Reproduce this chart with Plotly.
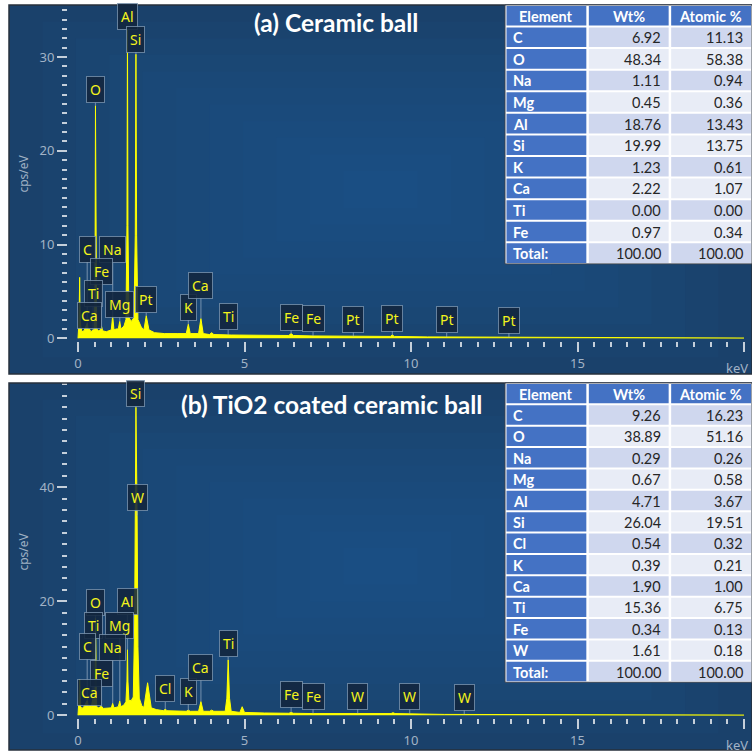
import numpy as np
import plotly.graph_objects as go

# ---------------- EDS spectra (energy in keV, intensity in cps/eV) ----------------
energy_a = [0.00, 0.02, 0.04, 0.05, 0.06, 0.08, 0.12, 0.18, 0.24, 0.277, 0.31, 0.341, 0.39,
            0.452, 0.49, 0.51, 0.525, 0.54, 0.56, 0.62, 0.67, 0.705, 0.74, 0.85, 0.95, 1.00,
            1.041, 1.08, 1.15, 1.21, 1.254, 1.29, 1.38, 1.44, 1.47, 1.486, 1.50, 1.53, 1.60,
            1.68, 1.72, 1.74, 1.76, 1.80, 1.90, 1.98, 2.05, 2.13, 2.30, 2.60, 3.00, 3.25,
            3.313, 3.37, 3.62, 3.691, 3.76, 3.95, 4.013, 4.08, 4.60, 5.50, 6.33, 6.40, 6.47,
            7.06, 8.00, 9.38, 9.44, 9.50, 10.5, 12.0, 14.0, 17.0, 20.0]
counts_a = [0.0, 1.2, 4.0, 6.5, 3.5, 1.3, 0.7, 0.8, 1.2, 1.6, 0.9, 1.0, 0.7,
            0.9, 0.9, 5.0, 24.8, 5.0, 1.0, 0.8, 0.9, 1.3, 0.8, 0.7, 0.8, 0.9,
            2.4, 0.9, 1.0, 1.0, 1.8, 1.0, 1.3, 2.0, 12.0, 33.0, 12.0, 2.2, 1.8,
            2.2, 11.0, 30.3, 11.0, 2.0, 1.2, 0.9, 2.4, 0.9, 0.6, 0.5, 0.5, 0.5,
            1.5, 0.5, 0.5, 2.1, 0.5, 0.4, 0.6, 0.4, 0.35, 0.3, 0.3, 0.5, 0.3,
            0.25, 0.2, 0.2, 0.35, 0.2, 0.15, 0.12, 0.08, 0.05, 0.03]

energy_b = [0.00, 0.02, 0.04, 0.05, 0.06, 0.08, 0.12, 0.18, 0.24, 0.277, 0.31, 0.341, 0.40,
            0.452, 0.49, 0.51, 0.525, 0.54, 0.56, 0.62, 0.705, 0.76, 0.85, 0.95, 1.00,
            1.041, 1.08, 1.15, 1.21, 1.254, 1.29, 1.38, 1.44, 1.47, 1.486, 1.50, 1.53, 1.60,
            1.66, 1.70, 1.74, 1.775, 1.80, 1.84, 1.92, 1.98, 2.09, 2.20, 2.35, 2.57, 2.622,
            2.67, 3.00, 3.25, 3.313, 3.37, 3.62, 3.691, 3.76, 3.95, 4.013, 4.08, 4.42, 4.47,
            4.51, 4.55, 4.60, 4.86, 4.93, 5.00, 5.60, 6.33, 6.40, 6.47, 7.06, 8.40, 9.40,
            9.46, 9.52, 11.0, 14.0, 17.0, 20.0]
counts_b = [0.0, 1.3, 4.0, 6.3, 3.5, 1.5, 1.2, 1.5, 2.2, 2.6, 1.6, 1.8, 1.6,
            3.0, 1.6, 4.5, 17.0, 4.5, 1.5, 1.3, 1.6, 1.2, 1.2, 1.2, 1.3,
            2.1, 1.3, 1.4, 1.5, 2.5, 1.5, 1.8, 2.4, 6.0, 11.5, 6.0, 2.6, 2.6,
            3.2, 16.0, 54.0, 35.0, 12.0, 3.0, 1.6, 1.4, 5.7, 1.3, 1.0, 0.8, 1.1,
            0.8, 0.7, 0.7, 0.9, 0.7, 0.7, 2.4, 0.7, 0.7, 0.9, 0.7, 0.7, 3.0,
            9.7, 3.0, 0.7, 0.5, 1.5, 0.5, 0.4, 0.35, 0.5, 0.35, 0.3, 0.3, 0.3,
            0.45, 0.3, 0.15, 0.1, 0.06, 0.04]

# ---------------- peak identification tags ----------------
tags_a = ["Al", "Si", "O", "C", "Na", "Fe", "Ti", "Ca", "Mg", "Pt", "K", "Ca", "Ti",
          "Fe", "Fe", "Pt", "Pt", "Pt", "Pt"]
tag_energy_a = [1.486, 1.740, 0.525, 0.277, 1.041, 0.705, 0.452, 0.341, 1.254, 2.050,
                3.313, 3.691, 4.510, 6.400, 7.058, 8.27, 9.44, 11.07, 12.94]

tags_b = ["Si", "W", "O", "Al", "Ti", "Mg", "C", "Na", "Fe", "Ca", "Cl", "K", "Ca", "Ti",
          "Fe", "Fe", "W", "W", "W"]
tag_energy_b = [1.740, 1.775, 0.525, 1.486, 0.452, 1.254, 0.277, 1.041, 0.705, 0.341,
                2.622, 3.313, 3.691, 4.510, 6.400, 7.058, 8.398, 9.96, 11.60]

# ---------------- quantification tables ----------------
table_header = ["Element", "Wt%", "Atomic %"]

elements_a = ["C", "O", "Na", "Mg", "Al", "Si", "K", "Ca", "Ti", "Fe", "Total:"]
wt_a = [6.92, 48.34, 1.11, 0.45, 18.76, 19.99, 1.23, 2.22, 0.00, 0.97, 100.00]
at_a = [11.13, 58.38, 0.94, 0.36, 13.43, 13.75, 0.61, 1.07, 0.00, 0.34, 100.00]

elements_b = ["C", "O", "Na", "Mg", "Al", "Si", "Cl", "K", "Ca", "Ti", "Fe", "W", "Total:"]
wt_b = [9.26, 38.89, 0.29, 0.67, 4.71, 26.04, 0.54, 0.39, 1.90, 15.36, 0.34, 1.61, 100.00]
at_b = [16.23, 51.16, 0.26, 0.58, 3.67, 19.51, 0.32, 0.21, 1.00, 6.75, 0.13, 0.18, 100.00]

titles = ["(a) Ceramic ball", "(b) TiO2 coated ceramic ball"]
x_ticks = [0, 5, 10, 15]
x_unit = "keV"

# ---------------- layout constants (pixels) ----------------
W, H = 752, 756
# vertical pixel lift of each tag box above the peak it marks
lift_a = [12, 15, 16, 74, 66, 55, 36, 13, 17, 16, 17, 33, 18, 16, 17, 17, 17, 17, 17]
lift_b = [14, 18, 16, 48, 73, 76, 54, 56, 33, 13, 20, 19, 34, 16, 18, 17, 17, 17, 17]

YELLOW = "#ffff00"
TICK = "#c5cfda"
TICKFONT = dict(family="Noto Sans", size=13, color="#a2b3c6")
TABLE_BLUE = "#4472c4"
BAND = ["#cfd7ee", "#e8ecf6"]


def px(x):
    return x / W


def py(y):
    return 1 - y / H


fig = go.Figure()

# spectra
for e, c, xa, ya in [(energy_a, counts_a, "x", "y"), (energy_b, counts_b, "x2", "y2")]:
    fig.add_trace(go.Scatter(
        x=e, y=c, xaxis=xa, yaxis=ya, mode="lines", line=dict(color=YELLOW, width=1),
        fill="tozeroy", fillcolor=YELLOW, hoverinfo="skip", showlegend=False))

shapes = []
annotations = []

# panel backgrounds with a soft central glow
for (y0, y1) in [(5, 377), (386, 756)]:
    shapes.append(dict(type="rect", xref="paper", yref="paper", x0=px(9), x1=1,
                       y0=py(y1), y1=py(y0), fillcolor="#1a416b", line=dict(width=0),
                       layer="below"))
    for i in range(1, 11):
        dx = (W - 9) * 0.045 * i
        dy = (y1 - y0) * 0.045 * i
        shapes.append(dict(type="rect", xref="paper", yref="paper",
                           x0=px(9 + dx), x1=px(W - dx), y0=py(y1 - dy), y1=py(y0 + dy),
                           fillcolor="rgba(52,118,178,0.045)", line=dict(width=0),
                           layer="below"))
    shapes.append(dict(type="rect", xref="paper", yref="paper", x0=px(9), x1=1,
                       y0=py(y1), y1=py(y0), fillcolor="rgba(0,0,0,0)",
                       line=dict(color="#27313d", width=1.5), layer="above"))


def add_table(elements, wt, at, top, row_h, left=505, right=W):
    """Banded quantification table drawn with paper-space rectangles and text."""
    n_rows = len(elements) + 1
    col_w = (right - left) / 3
    bottom = top + row_h * n_rows
    shapes.append(dict(type="rect", xref="paper", yref="paper", x0=px(left), x1=px(right),
                       y0=py(bottom), y1=py(top), fillcolor="white",
                       line=dict(color="#3b4350", width=1), layer="above"))
    rows = [table_header] + [[e, f"{w:.2f}", f"{a:.2f}"] for e, w, a in zip(elements, wt, at)]
    for r, row in enumerate(rows):
        ry0 = top + r * row_h
        for c, txt in enumerate(row):
            cx0 = left + c * col_w
            if r == 0 or c == 0:
                fill = TABLE_BLUE
            else:
                fill = BAND[(r - 1) % 2]
            shapes.append(dict(type="rect", xref="paper", yref="paper",
                               x0=px(cx0 + 1.5), x1=px(cx0 + col_w - 1),
                               y0=py(ry0 + row_h - 1), y1=py(ry0 + 1),
                               fillcolor=fill, line=dict(width=0), layer="above"))
            if r == 0:
                xa, xx, label, color = "center", cx0 + col_w / 2, f"<b>{txt}</b>", "white"
            elif c == 0:
                xa, xx, label, color = "left", cx0 + 6, f"<b>{txt}</b>", "white"
            else:
                xa, xx, label, color = "right", cx0 + col_w - 7, txt, "#262626"
            annotations.append(dict(x=px(xx), y=py(ry0 + row_h / 2 + 0.5), xref="paper",
                                    yref="paper", text=label, showarrow=False,
                                    xanchor=xa, yanchor="middle",
                                    font=dict(family="Lato", size=14.5, color=color)))


add_table(elements_a, wt_a, at_a, 5, 21.75)
add_table(elements_b, wt_b, at_b, 386, 21.55)

# peak tags
for tags, energies, lifts, (e_arr, c_arr), xr, yr in [
        (tags_a, tag_energy_a, lift_a, (energy_a, counts_a), "x", "y"),
        (tags_b, tag_energy_b, lift_b, (energy_b, counts_b), "x2", "y2")]:
    for t, e, l in zip(tags, energies, lifts):
        tip = float(np.interp(e, e_arr, c_arr))
        annotations.append(dict(
            x=e, y=tip, xref=xr, yref=yr, text=t, showarrow=True, ax=0, ay=-l,
            arrowhead=0, arrowwidth=1.2, arrowcolor="rgba(165,185,205,0.55)",
            standoff=0, startstandoff=0,
            bgcolor="rgba(18,38,62,0.88)", bordercolor="rgba(130,155,180,0.75)",
            borderwidth=1, borderpad=3,
            font=dict(family="Noto Sans", size=14, color="#f4f41c")))

# panel titles
for t, (xc, yc) in zip(titles, [(336, 23), (331, 408)]):
    annotations.append(dict(x=px(xc), y=py(yc), xref="paper", yref="paper", text=f"<b>{t}</b>",
                            showarrow=False, xanchor="center", yanchor="middle",
                            font=dict(family="Lato", size=24.5, color="white")))

# y-axis captions and the energy unit at the right end of each axis
for yc in [175, 556]:
    annotations.append(dict(x=px(24), y=py(yc), xref="paper", yref="paper", text="cps/eV",
                            showarrow=False, textangle=-90, xanchor="center", yanchor="middle",
                            font=dict(family="Noto Sans", size=12, color="#9fb0c3")))
for yc in [371, 751]:
    annotations.append(dict(x=px(750), y=py(yc), xref="paper", yref="paper", text=x_unit,
                            showarrow=False, xanchor="right", yanchor="middle",
                            font=TICKFONT))

KEV_PX = 666 / 20.0           # horizontal pixels per keV
x_lo = -10 / KEV_PX           # y-axis sits 10 px left of 0 keV
x_hi = 20.06


def xaxis_cfg(anchor):
    return dict(domain=[px(68), px(78 + x_hi * KEV_PX)], range=[x_lo, x_hi], anchor=anchor,
                tickvals=x_ticks + [20], ticktext=[str(v) for v in x_ticks] + [""],
                ticks="outside", ticklen=10, tickwidth=2, tickcolor=TICK,
                minor=dict(dtick=0.5, tick0=0, ticks="outside", ticklen=5, tickwidth=2,
                           tickcolor=TICK),
                showgrid=False, zeroline=False, showline=False, tickfont=TICKFONT,
                fixedrange=True)


def yaxis_cfg(anchor, dom, rng, major, minor):
    return dict(domain=dom, range=rng, anchor=anchor, dtick=major, tick0=0,
                ticks="outside", ticklen=10, tickwidth=2, tickcolor=TICK,
                minor=dict(dtick=minor, tick0=0, ticks="outside", ticklen=5, tickwidth=2,
                           tickcolor=TICK),
                showgrid=False, zeroline=False, showline=False, tickfont=TICKFONT,
                fixedrange=True)


fig.update_layout(
    width=W, height=H, margin=dict(l=0, r=0, t=0, b=0),
    paper_bgcolor="white", plot_bgcolor="rgba(0,0,0,0)", showlegend=False,
    xaxis=xaxis_cfg("y"),
    yaxis=yaxis_cfg("x", [py(344), py(6)], [-3 / 9.45, 338 / 9.45 - 3 / 9.45], 10, 1),
    xaxis2=xaxis_cfg("y2"),
    yaxis2=yaxis_cfg("x2", [py(724), py(387)], [-3 / 5.75, 337 / 5.75 - 3 / 5.75], 20, 2),
    shapes=shapes, annotations=annotations,
)

fig.write_html("out.html")
